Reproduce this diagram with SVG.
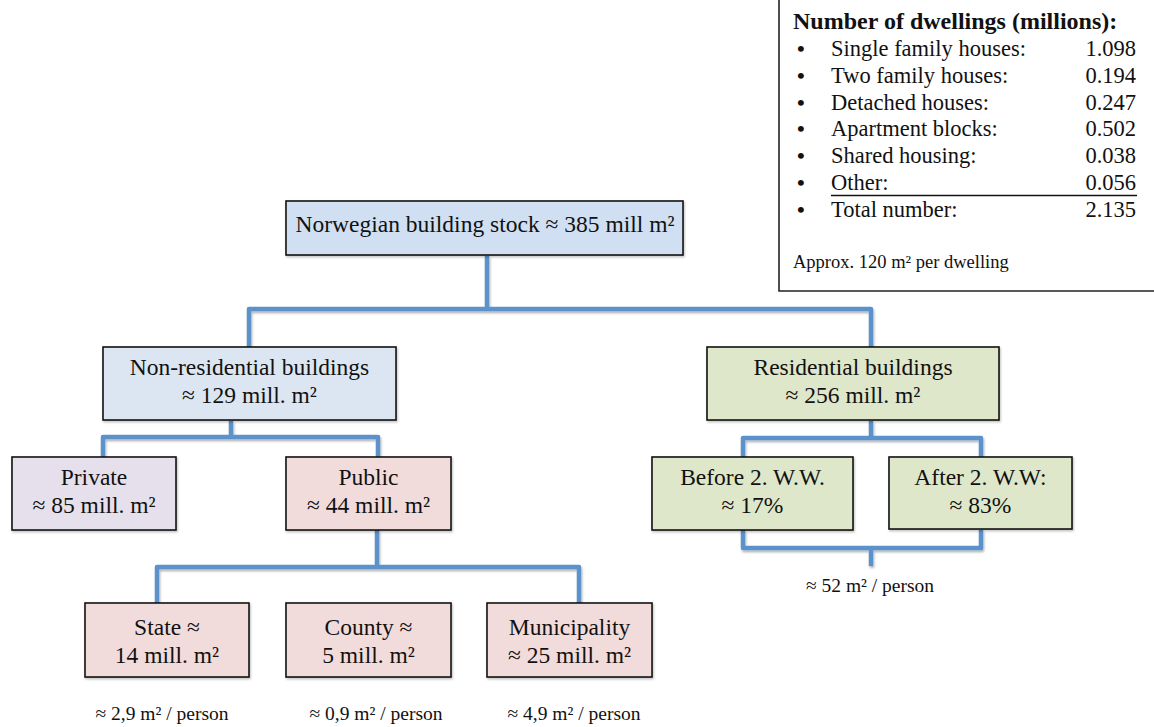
<svg xmlns="http://www.w3.org/2000/svg" width="1154" height="727" viewBox="0 0 1154 727">
<defs>
<filter id="sh" x="-20%" y="-20%" width="140%" height="140%">
<feDropShadow dx="1" dy="2" stdDeviation="1.2" flood-color="#000" flood-opacity="0.3"/>
</filter>
<filter id="bs" x="-5%" y="-5%" width="110%" height="115%">
<feDropShadow dx="1" dy="1.5" stdDeviation="1" flood-color="#000" flood-opacity="0.25"/>
</filter>
</defs>
<style>
text{font-family:"Liberation Serif","Times New Roman",serif;fill:#111}
.bt{font-size:23.5px;text-anchor:middle}
.lg{font-size:22.5px}
.lv{font-size:22.5px;text-anchor:end}
.lb{font-size:22px;font-weight:bold}
.sm{font-size:19.5px;text-anchor:middle}
.box{stroke:#141414;stroke-width:1.6}
.blue0{fill:#D0DFF1}
.blue{fill:#DCE6F2}
.lav{fill:#E6E0EC}
.pink{fill:#F2DCDB}
.green{fill:#DEE7C9}
.con{fill:none;stroke:#5B92CB;stroke-width:4.5;stroke-linejoin:round}
</style>
<rect width="1154" height="727" fill="#fff"/>

<g id="legend">
<path d="M779,0 V291 H1154" fill="none" stroke="#222" stroke-width="1.6"/>
<text x="793" y="29" style="font-size:24px;font-weight:bold">Number of dwellings (millions):</text>
<text class="lb" x="797" y="56">•</text><text class="lg" x="831" y="56">Single family houses:</text><text class="lv" x="1136" y="56">1.098</text>
<text class="lb" x="797" y="83">•</text><text class="lg" x="831" y="83">Two family houses:</text><text class="lv" x="1136" y="83">0.194</text>
<text class="lb" x="797" y="110">•</text><text class="lg" x="831" y="110">Detached houses:</text><text class="lv" x="1136" y="110">0.247</text>
<text class="lb" x="797" y="136">•</text><text class="lg" x="831" y="136">Apartment blocks:</text><text class="lv" x="1136" y="136">0.502</text>
<text class="lb" x="797" y="163">•</text><text class="lg" x="831" y="163">Shared housing:</text><text class="lv" x="1136" y="163">0.038</text>
<text class="lb" x="797" y="190">•</text><text class="lg" x="831" y="190">Other:</text><text class="lv" x="1136" y="190">0.056</text>
<line x1="831" y1="195.5" x2="1137" y2="195.5" stroke="#111" stroke-width="1.3"/>
<text class="lb" x="797" y="217">•</text><text class="lg" x="831" y="217">Total number:</text><text class="lv" x="1136" y="217">2.135</text>
<text x="793" y="268" style="font-size:18.5px">Approx. 120 m² per dwelling</text>
</g>

<g id="connectors" filter="url(#sh)">
<path class="con" d="M487,256 V309"/>
<path class="con" d="M249,347 V309 H871 V347"/>
<path class="con" d="M231,421 V437"/>
<path class="con" d="M103,457 V437 H378 V457"/>
<path class="con" d="M377,530 V567"/>
<path class="con" d="M157,603 V567 H579 V603"/>
<path class="con" d="M871,421 V438"/>
<path class="con" d="M743,457 V438 H981 V457"/>
<path class="con" d="M743,530 V548 H981 V530"/>
<path class="con" d="M871,548 V566"/>
</g>

<g id="n-total">
<rect class="box blue0" x="286" y="201" width="397" height="54" filter="url(#bs)"/>
<text class="bt" x="485" y="232">Norwegian building stock ≈ 385 mill m²</text>
</g>
<g id="n-nonres">
<rect class="box blue" x="103" y="347" width="293" height="73" filter="url(#bs)"/>
<text class="bt" x="249.5" y="375">Non-residential buildings</text>
<text class="bt" x="249.5" y="403">≈ 129 mill. m²</text>
</g>
<g id="n-res">
<rect class="box green" x="707" y="347" width="292" height="73" filter="url(#bs)"/>
<text class="bt" x="853" y="375">Residential buildings</text>
<text class="bt" x="853" y="403">≈ 256 mill. m²</text>
</g>
<g id="n-private">
<rect class="box lav" x="12" y="457" width="164" height="73" filter="url(#bs)"/>
<text class="bt" x="94" y="485">Private</text>
<text class="bt" x="94" y="513">≈ 85 mill. m²</text>
</g>
<g id="n-public">
<rect class="box pink" x="286" y="457" width="165" height="73" filter="url(#bs)"/>
<text class="bt" x="368.5" y="485">Public</text>
<text class="bt" x="368.5" y="513">≈ 44 mill. m²</text>
</g>
<g id="n-before">
<rect class="box green" x="652" y="457" width="201" height="73" filter="url(#bs)"/>
<text class="bt" x="752.5" y="485">Before 2. W.W.</text>
<text class="bt" x="752.5" y="513">≈ 17%</text>
</g>
<g id="n-after">
<rect class="box green" x="889" y="457" width="183" height="72" filter="url(#bs)"/>
<text class="bt" x="980.5" y="485">After 2. W.W:</text>
<text class="bt" x="980.5" y="513">≈ 83%</text>
</g>
<g id="n-state">
<rect class="box pink" x="85" y="603" width="164" height="74" filter="url(#bs)"/>
<text class="bt" x="167" y="635">State ≈</text>
<text class="bt" x="167" y="663">14 mill. m²</text>
</g>
<g id="n-county">
<rect class="box pink" x="286" y="603" width="165" height="74" filter="url(#bs)"/>
<text class="bt" x="368.5" y="635">County ≈</text>
<text class="bt" x="368.5" y="663">5 mill. m²</text>
</g>
<g id="n-muni">
<rect class="box pink" x="487" y="603" width="165" height="74" filter="url(#bs)"/>
<text class="bt" x="569.5" y="635">Municipality</text>
<text class="bt" x="569.5" y="663">≈ 25 mill. m²</text>
</g>

<g id="labels">
<text class="sm" x="870" y="592">≈ 52 m² / person</text>
<text class="sm" x="162" y="720">≈ 2,9 m² / person</text>
<text class="sm" x="376" y="720">≈ 0,9 m² / person</text>
<text class="sm" x="574" y="720">≈ 4,9 m² / person</text>
</g>
</svg>
